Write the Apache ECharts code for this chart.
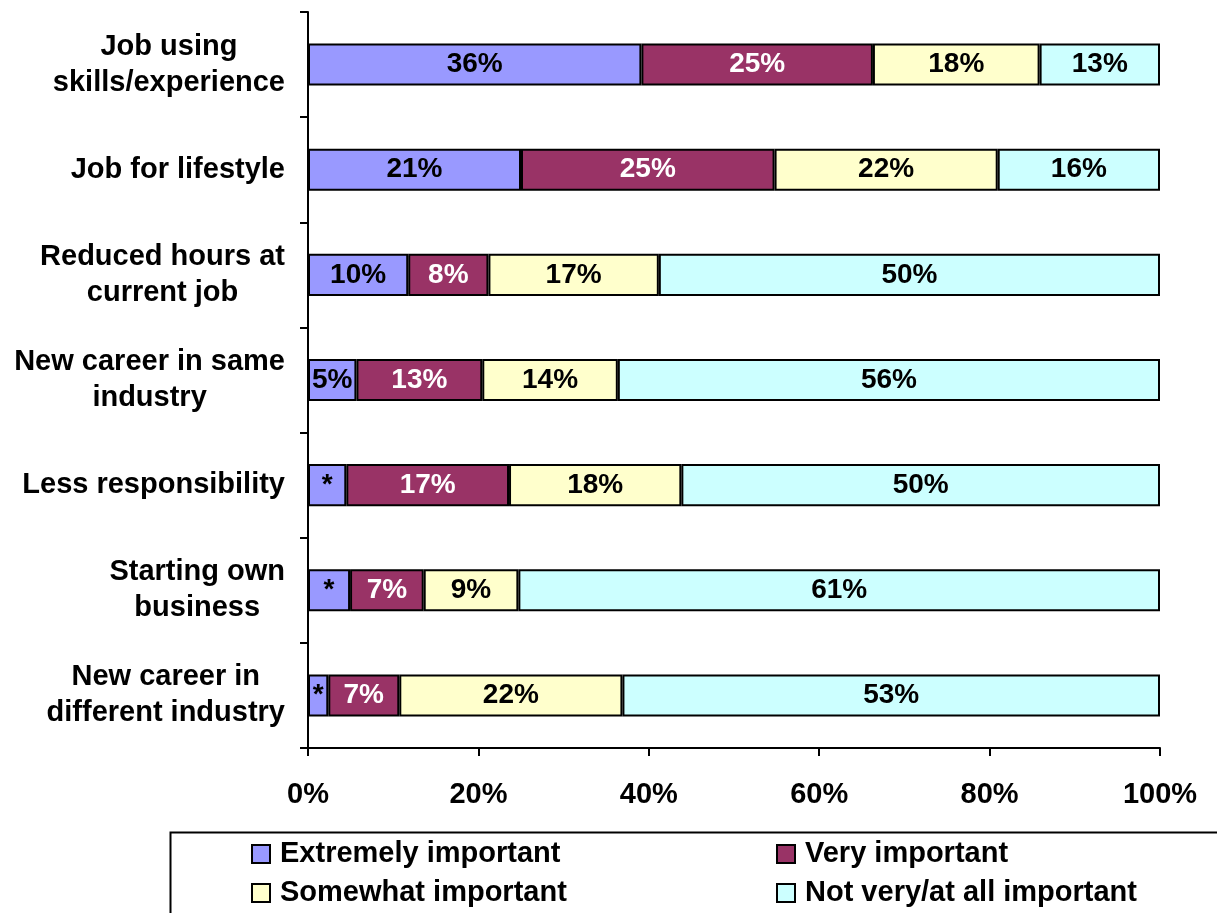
<!DOCTYPE html>
<html>
<head>
<meta charset="utf-8">
<script src="https://cdn.jsdelivr.net/npm/echarts@6/dist/echarts.min.js"></script>
<style>html,body{margin:0;padding:0;background:#fff;}#c{width:1217px;height:913px;}</style>
</head>
<body>
<div id="c"></div>
<script>
const categories = [
  'Job using\nskills/experience',
  'Job for lifestyle',
  'Reduced hours at\ncurrent job',
  'New career in same\nindustry',
  'Less responsibility',
  'Starting own\nbusiness',
  'New career in\ndifferent industry'
];
const seriesNames = ['Extremely important', 'Very important', 'Somewhat important', 'Not very/at all important'];
const extremely = [36, 21, 10, 5, 4, 4, 2];
const very = [25, 25, 8, 13, 17, 7, 7];
const somewhat = [18, 22, 17, 14, 18, 9, 22];
const notVery = [13, 16, 50, 56, 50, 61, 53];
const starred = [false, false, false, false, true, true, true];
const xTicks = [0, 20, 40, 60, 80, 100];

const colors = ['#9999FF', '#993366', '#FFFFCC', '#CCFFFF'];
const labelColors = ['#000', '#fff', '#000', '#000'];
const FONT = "'Liberation Sans', Arial, sans-serif";
const raw = [extremely, very, somewhat, notVery];
const totals = categories.map((_, i) => raw.reduce((s, arr) => s + arr[i], 0));

const chart = echarts.init(document.getElementById('c'), null, {renderer: 'canvas'});
const series = raw.map((arr, si) => ({
  name: seriesNames[si],
  type: 'bar',
  stack: 'total',
  barWidth: '40%',
  data: arr.map((v, i) => v / totals[i] * 100),
  itemStyle: {color: colors[si], borderColor: '#000', borderWidth: 2},
  label: {
    show: true,
    position: 'inside',
    color: labelColors[si],
    fontFamily: FONT,
    fontWeight: 'bold',
    fontSize: 28,
    formatter: p => (si === 0 && starred[p.dataIndex]) ? '*' : arr[p.dataIndex] + '%'
  },
  emphasis: {disabled: true}
}));

const legendPos = [[251, 839], [776, 839], [251, 878], [776, 878]];
const legendOrder = [0, 1, 2, 3];
const legends = legendOrder.map((si, k) => ({
  orient: 'horizontal',
  left: legendPos[k][0],
  top: legendPos[k][1],
  padding: 0,
  itemWidth: 18,
  itemHeight: 18,
  icon: 'rect',
  selectedMode: false,
  data: [seriesNames[si]],
  textStyle: {fontFamily: FONT, fontWeight: 'bold', fontSize: 29, color: '#000', lineHeight: 30, padding: [0, 0, 0, 5]},
  itemStyle: {borderColor: '#000', borderWidth: 2}
}));

chart.setOption({
  animation: false,
  backgroundColor: '#fff',
  grid: {left: 308, right: 57, top: 12, bottom: 165, containLabel: false},
  xAxis: {
    type: 'value', min: 0, max: 100, interval: 20,
    axisLine: {show: true, lineStyle: {color: '#000', width: 2}},
    axisTick: {show: true, length: 8, lineStyle: {color: '#000', width: 2}},
    splitLine: {show: false},
    axisLabel: {
      margin: 32, color: '#000', fontFamily: FONT, fontWeight: 'bold', fontSize: 29,
      formatter: v => xTicks.includes(v) ? v + '%' : ''
    }
  },
  yAxis: {
    type: 'category', inverse: true, data: categories,
    axisLine: {show: true, lineStyle: {color: '#000', width: 2}},
    axisTick: {show: true, length: 8, lineStyle: {color: '#000', width: 2}},
    axisLabel: {
      margin: 23, align: 'right', color: '#000',
      formatter: v => v.split('\n').map(l => '{c|' + l + '}').join('\n'),
      rich: {c: {align: 'center', fontFamily: FONT, fontWeight: 'bold', fontSize: 29, lineHeight: 36, color: '#000'}}
    }
  },
  legend: legends,
  graphic: [{
    type: 'rect', left: 168, top: 830, z: -1,
    shape: {width: 1100, height: 120},
    style: {fill: 'none', stroke: '#000', lineWidth: 2}
  }],
  series: series
});
</script>
</body>
</html>
